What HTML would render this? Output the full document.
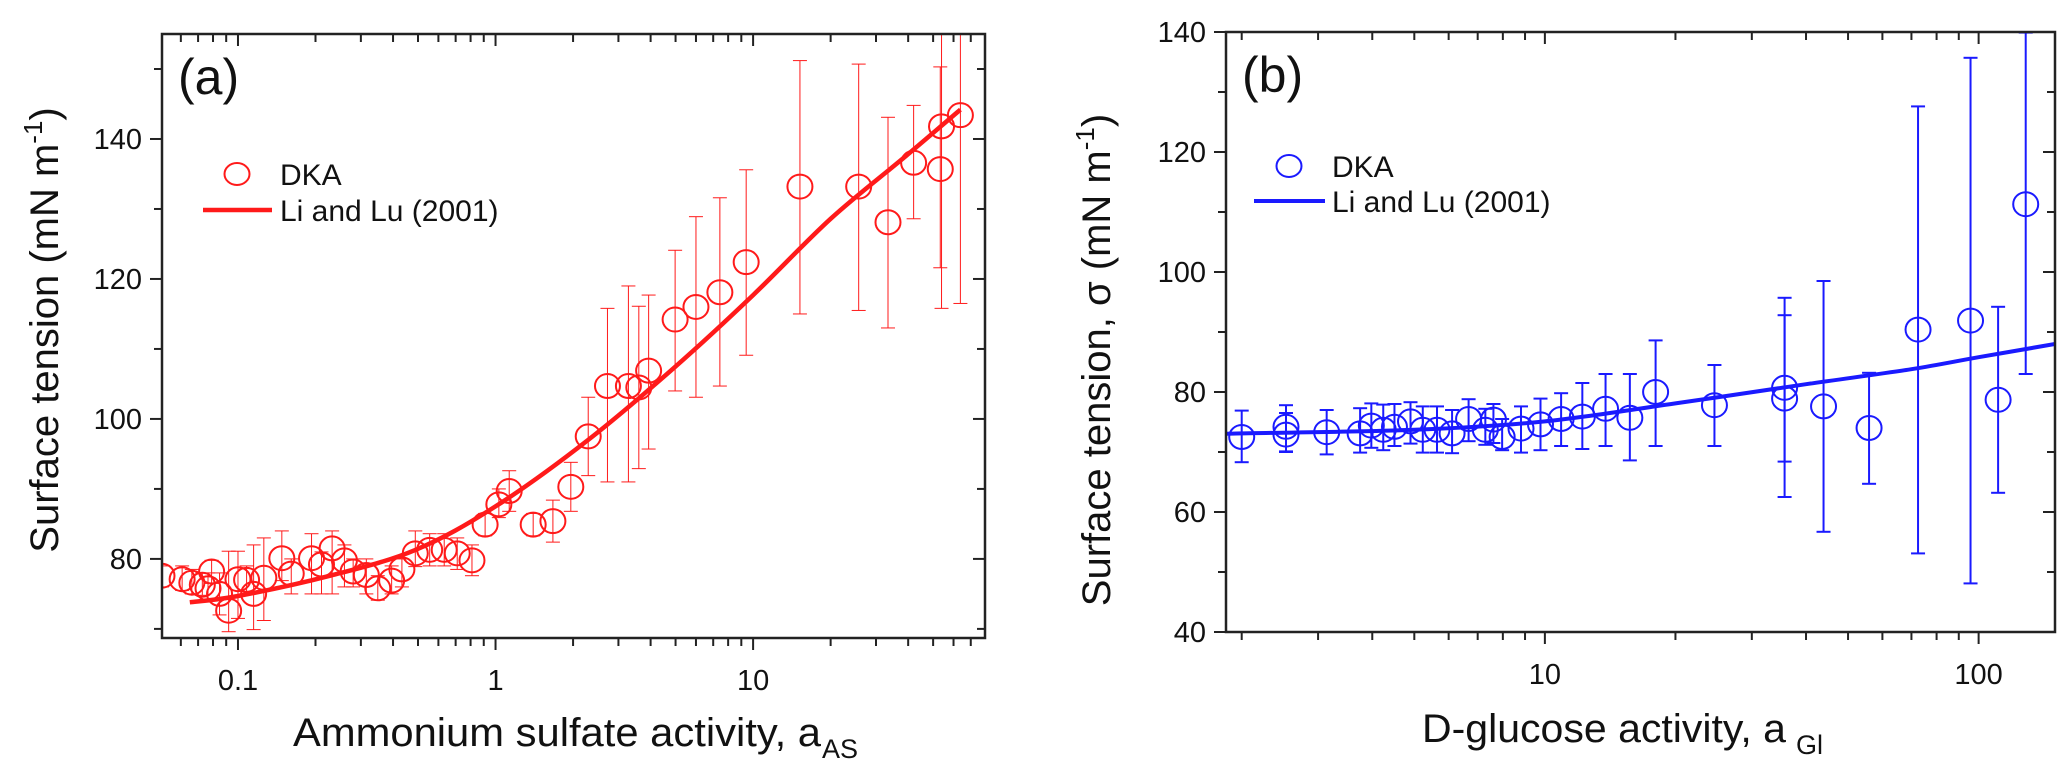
<!DOCTYPE html>
<html><head><meta charset="utf-8"><style>
html,body{margin:0;padding:0;background:#fff;}
svg{display:block;font-family:"Liberation Sans",Arial,sans-serif;}
</style></head><body>
<svg id="chart" width="2067" height="776" viewBox="0 0 2067 776" xmlns="http://www.w3.org/2000/svg">
<g id="pa"></g>
<g id="pb"></g>
</svg>
<script>
// ---------- Panel (a) data ----------
const aX = [0.0507,0.0607,0.0662,0.0727,0.079,0.0765,0.0848,0.092,0.1,0.108,0.115,0.126,0.148,0.161,0.193,0.211,0.232,0.259,0.28,0.315,0.349,0.395,0.433,0.488,0.555,0.632,0.71,0.81,0.911,1.03,1.13,1.40,1.67,1.96,2.29,2.72,3.28,3.6,3.93,4.98,6.0,7.43,9.4,15.2,25.7,33.4,42.0,53.3,53.9,63.8];
const aY = [77.6,77.1,76.6,76.3,78.2,75.8,75.0,72.6,77.1,77.0,75.0,77.3,80.1,77.9,80.1,79.2,81.5,79.8,78.2,77.7,75.8,76.9,78.5,80.8,81.3,81.3,80.8,79.8,84.9,87.8,89.7,84.9,85.4,90.3,97.5,104.7,104.7,104.5,106.9,114.2,116.0,118.1,122.4,133.2,133.2,128.1,136.6,135.7,141.8,143.4];
const aHi = [79,79,78.5,78,79.8,78,78,81.1,81.1,79,82.0,83.0,84.0,80,83.6,81,84.0,82,80,80,77.6,79,80,84.0,83.6,83.6,83,82,86.5,90.0,92.6,86.5,88.4,93.8,103.1,115.8,119.0,116.1,117.7,124.1,128.9,131.6,135.6,151.2,150.7,143.1,144.8,150.3,157,157];
const aLo = [76,75.5,75,74.8,76.5,74,72,69.6,71.5,75,69.9,71.2,76.9,75,75.0,75,75.0,76,76,75,74.1,75,76,78.9,79,79,78.5,77.6,83.3,85.9,86.8,83.3,82.4,86.8,91.9,91.0,91.0,92.9,95.7,104.0,103.1,104.7,109.1,115.0,115.5,113.0,128.6,121.6,115.8,116.5];
const aCurveX = [0.065,0.1,0.228,0.49,1,2.29,5,10,20,39,63.8];
const aCurveY = [73.8,74.7,77.6,81.3,87.5,97.0,107.5,117.7,128.6,137.5,144.2];
const aYTicks = [80,100,120,140];
const aXTicks = [0.1,1,10];
const aXTickLabels = ["0.1","1","10"];

// ---------- Panel (b) data ----------
const bX = [2.0,2.53,2.53,3.14,3.75,3.98,4.24,4.5,4.9,5.23,5.64,6.11,6.67,7.29,7.61,7.97,8.81,9.77,10.9,12.2,13.8,15.7,18.0,24.6,35.7,35.7,43.9,55.9,72.5,95.8,110.9,128.4];
const bY = [72.5,74.2,72.9,73.3,73.1,74.4,73.7,74.2,75.1,73.7,73.7,73.1,75.5,73.7,75.4,72.5,73.9,74.6,75.5,75.9,77.2,75.7,80.0,77.8,80.7,78.9,77.6,74.0,90.4,91.9,78.7,111.3];
const bHi = [76.9,77.8,76.5,77.0,77.3,78.1,77.9,78.0,78.3,77.6,77.6,77.0,78.8,77.2,78.0,75.5,77.6,78.9,79.8,81.5,83.0,83.0,88.6,84.5,95.7,92.8,98.5,83.2,127.6,135.7,94.2,139.9];
const bLo = [68.3,70.1,70.0,69.6,69.9,70.7,70.3,71.0,71.4,69.9,69.9,69.8,71.8,71.2,71.5,70.3,69.9,70.3,71.0,70.5,71.0,68.6,71.0,71.0,62.5,68.4,56.7,64.7,53.1,48.1,63.2,83.0];
const bCurveX = [1.84,2,5,10,20,40,70,100,150];
const bCurveY = [73.0,73.1,73.7,75.1,78.1,81.3,83.8,85.8,88.0];
const bYTicks = [40,60,80,100,120,140];
const bXTicks = [10,100];
const bXTickLabels = ["10","100"];

const NS = "http://www.w3.org/2000/svg";
function mk(parent, tag, attrs, text){
  const e = document.createElementNS(NS, tag);
  for (const k in attrs) e.setAttribute(k, attrs[k]);
  if (text !== undefined) e.textContent = text;
  parent.appendChild(e);
  return e;
}
function smoothPath(pts){
  let d = 'M'+pts[0][0].toFixed(1)+','+pts[0][1].toFixed(1);
  for (let i=0;i<pts.length-1;i++){
    const p0=pts[Math.max(0,i-1)], p1=pts[i], p2=pts[i+1], p3=pts[Math.min(pts.length-1,i+2)];
    const c1=[p1[0]+(p2[0]-p0[0])/6, p1[1]+(p2[1]-p0[1])/6];
    const c2=[p2[0]-(p3[0]-p1[0])/6, p2[1]-(p3[1]-p1[1])/6];
    d += 'C'+c1[0].toFixed(1)+','+c1[1].toFixed(1)+' '+c2[0].toFixed(1)+','+c2[1].toFixed(1)+' '+p2[0].toFixed(1)+','+p2[1].toFixed(1);
  }
  return d;
}

function drawPanel(g, cfg){
  const L=cfg.L,R=cfg.R,T=cfg.T,B=cfg.B;
  const lx0=Math.log10(cfg.xmin), lx1=Math.log10(cfg.xmax);
  const sx = v => L + (Math.log10(v)-lx0)/(lx1-lx0)*(R-L);
  const sy = v => B - (v-cfg.ymin)/(cfg.ymax-cfg.ymin)*(B-T);
  const col = cfg.color;

  const cp = mk(g,'clipPath',{id:cfg.id+'-clip'});
  mk(cp,'rect',{x:L,y:T,width:R-L,height:B-T});

  const ticks = mk(g,'g',{stroke:'#222','stroke-width':2});
  
  
  for (let d=Math.floor(lx0); d<=Math.ceil(lx1); d++){
    for (let m=1; m<=9; m++){
      const v = m*Math.pow(10,d);
      if (v < cfg.xmin*0.999 || v > cfg.xmax*1.001) continue;
      const x = sx(v), len = m===1?12:8;
      mk(ticks,'line',{x1:x,x2:x,y1:B,y2:B+len});
      mk(ticks,'line',{x1:x,x2:x,y1:T,y2:T+len});
    }
  }
  for (let v=Math.ceil(cfg.ymin/10)*10; v<=cfg.ymax; v+=10){
    const y = sy(v), major = (v%20===0), len = major?12:8;
    mk(ticks,'line',{x1:L-len,x2:L,y1:y,y2:y});
    mk(ticks,'line',{x1:R-len,x2:R,y1:y,y2:y});
  }
  cfg.yTicks.forEach(v=>{
    const t = mk(g,'text',{x:L-20,y:sy(v)+10,'font-size':29,'text-anchor':'end',fill:'#111'},String(v));
    
    
  });
  cfg.xTicks.forEach((v,i)=>{
    const t = mk(g,'text',{x:sx(v),y:B+52,'font-size':29,'text-anchor':'middle',fill:'#111'},cfg.xTickLabels[i]);
    
    
  });

  const plot = mk(g,'g',{'clip-path':'url(#'+cfg.id+'-clip)'});
  
  

  const eb = mk(plot,'g',{stroke:col,'stroke-width':cfg.ebw,fill:'none'});
  
  
  cfg.xs.forEach((xv,i)=>{
    const x=sx(xv), y1=sy(cfg.hi[i]), y2=sy(cfg.lo[i]);
    mk(eb,'line',{x1:x,x2:x,y1:y1,y2:y2});
    mk(eb,'line',{x1:x-cfg.cap,x2:x+cfg.cap,y1:y1,y2:y1});
    mk(eb,'line',{x1:x-cfg.cap,x2:x+cfg.cap,y1:y2,y2:y2});
  });
  const pts = cfg.cx.map((xv,i)=>[sx(xv), sy(cfg.cy[i])]);
  const cv = mk(plot,'path',{d:smoothPath(pts),stroke:col,'stroke-width':cfg.lw,fill:'none','stroke-linejoin':'round'});
  
  
  cfg.xs.forEach((xv,i)=>{
    const c = mk(plot,'ellipse',{cx:sx(xv),cy:sy(cfg.ys[i]),rx:12.5,ry:12,fill:'none',stroke:col,'stroke-width':2});
    
    
  });

  const fr = mk(g,'rect',{x:L,y:T,width:R-L,height:B-T,fill:'none',stroke:'#222','stroke-width':2.5});
  
  

  const pl = mk(g,'text',{x:L+16,y:T+60,'font-size':50,fill:'#111'},cfg.label);
  
  

  const lg = mk(g,'g',{});
  
  
  mk(lg,'ellipse',{cx:cfg.leg.cx,cy:cfg.leg.cy,rx:12.5,ry:11,fill:'none',stroke:col,'stroke-width':2});
  const l1 = mk(lg,'text',{x:cfg.leg.tx,y:cfg.leg.cy+11,'font-size':30,fill:'#111'},'DKA');
  
  
  mk(lg,'line',{x1:cfg.leg.lx1,x2:cfg.leg.lx2,y1:cfg.leg.ly,y2:cfg.leg.ly,stroke:col,'stroke-width':cfg.lw});
  const l2 = mk(lg,'text',{x:cfg.leg.tx,y:cfg.leg.ly+11,'font-size':30,fill:'#111'},'Li and Lu (2001)');
  
  

  const xt = mk(g,'text',{x:cfg.xt.x,y:cfg.xt.y,'font-size':40,fill:'#111',textLength:cfg.xt.len,lengthAdjust:'spacingAndGlyphs'},cfg.xt.text);
  
  
  mk(g,'text',{x:cfg.xt.sx,y:cfg.xt.y+12,'font-size':27,fill:'#111'},cfg.xt.sub);
  const yt = mk(g,'text',{x:0,y:0,'font-size':40,fill:'#111','text-anchor':'middle',transform:'translate('+cfg.yt.x+','+cfg.yt.y+') rotate(-90)'});
  
  
  mk(yt,'tspan',{},cfg.yt.text);
  mk(yt,'tspan',{'font-size':26,dy:-16},'-1');
  mk(yt,'tspan',{dy:16},')');
}

drawPanel(document.getElementById('pa'),{
  id:'a',L:162,R:985,T:34,B:638,xmin:0.0507,xmax:79.5,ymin:68.7,ymax:155,
  color:'#ff1a1a',ebw:1,cap:7,lw:4.5,label:'(a)',
  xs:aX,ys:aY,hi:aHi,lo:aLo,cx:aCurveX,cy:aCurveY,
  yTicks:aYTicks,xTicks:aXTicks,xTickLabels:aXTickLabels,
  leg:{cx:237,cy:174,tx:280,lx1:203,lx2:272,ly:210},
  xt:{x:293,y:746,len:528,text:'Ammonium sulfate activity, a',sx:822,sub:'AS'},
  yt:{x:58,y:330,text:'Surface tension (mN m'}
});
drawPanel(document.getElementById('pb'),{
  id:'b',L:1226,R:2055,T:32,B:632,xmin:1.84,xmax:150,ymin:40,ymax:140,
  color:'#1a1aff',ebw:2,cap:7,lw:4,label:'(b)',
  xs:bX,ys:bY,hi:bHi,lo:bLo,cx:bCurveX,cy:bCurveY,
  yTicks:bYTicks,xTicks:bXTicks,xTickLabels:bXTickLabels,
  leg:{cx:1289,cy:166,tx:1332,lx1:1254,lx2:1325,ly:201},
  xt:{x:1422,y:742,len:364,text:'D-glucose activity, a',sx:1796,sub:'Gl'},
  yt:{x:1110,y:360,text:'Surface tension,  \u03c3 (mN m'}
});
</script>
</body></html>
